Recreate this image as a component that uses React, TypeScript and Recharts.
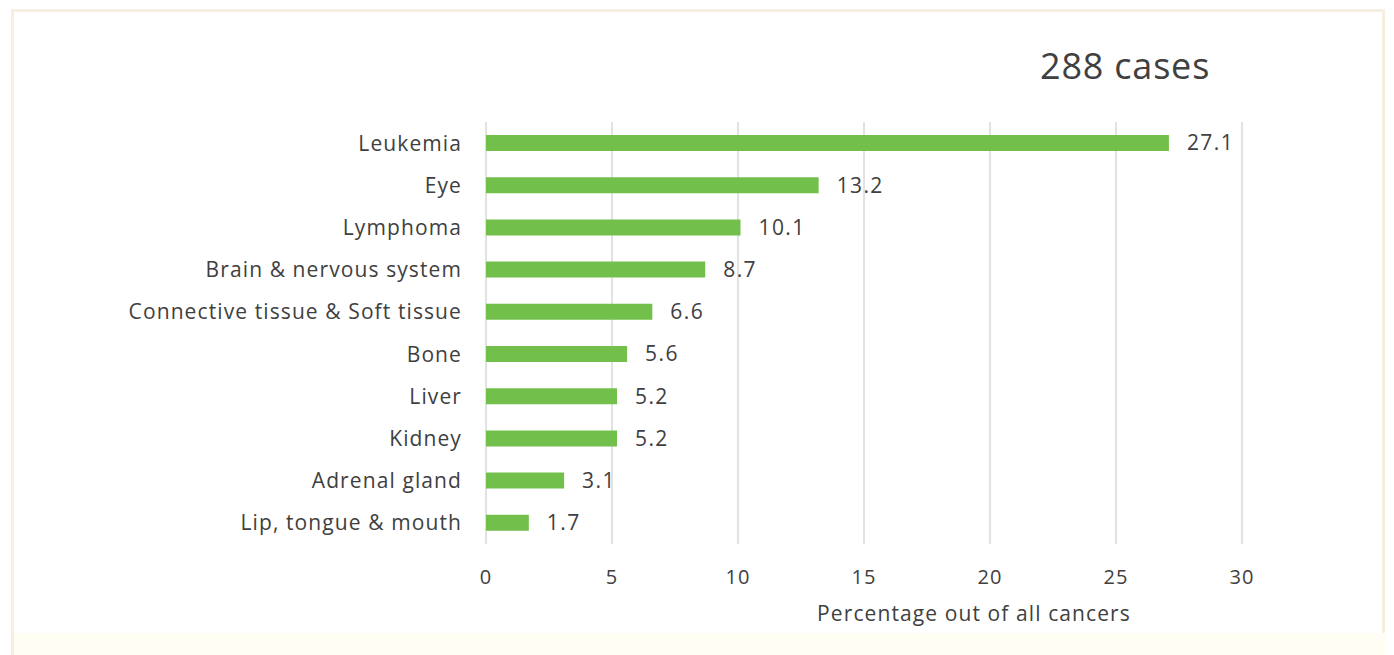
import { BarChart, Bar, XAxis, YAxis, CartesianGrid, LabelList, Label } from "recharts"

// categories, top to bottom
const cancerTypes: string[] = [
  "Leukemia",
  "Eye",
  "Lymphoma",
  "Brain & nervous system",
  "Connective tissue & Soft tissue",
  "Bone",
  "Liver",
  "Kidney",
  "Adrenal gland",
  "Lip, tongue & mouth",
]

// percentage out of all cancers
const percentages: number[] = [27.1, 13.2, 10.1, 8.7, 6.6, 5.6, 5.2, 5.2, 3.1, 1.7]

const xTicks: number[] = [0, 5, 10, 15, 20, 25, 30]

const totalCases = 288

const data = cancerTypes.map((name, i) => ({ name, value: percentages[i] }))

const FONT = "'Open Sans', Lato, sans-serif"
const TEXT = "#404040"

export default function App() {
  return (
    <div style={{ position: "absolute", left: 0, top: 0, width: 1394, height: 655, background: "#fff", fontFamily: FONT }}>
      {/* light frame around the chart */}
      <div
        style={{
          position: "absolute",
          left: 11,
          top: 9,
          width: 1374,
          height: 646,
          border: "3px solid #f7eee2",
          borderBottom: "none",
          boxSizing: "border-box",
        }}
      />
      <div style={{ position: "absolute", left: 14, top: 633, width: 1371, height: 22, background: "#fffdf4" }} />

      <div
        style={{
          position: "absolute",
          left: 1040,
          top: 42,
          fontSize: 36,
          letterSpacing: 0.8,
          color: TEXT,
          lineHeight: "48px",
          whiteSpace: "nowrap",
        }}
      >
        {totalCases} cases
      </div>

      <div style={{ position: "absolute", left: 0, top: 0 }}>
        <BarChart
          width={1394}
          height={655}
          data={data}
          layout="vertical"
          margin={{ top: 122, right: 152, bottom: 71, left: 0 }}
          barCategoryGap={13}
        >
          <CartesianGrid horizontal={false} vertical={true} stroke="#d9d9d9" strokeWidth={1.5} />
          <XAxis
            type="number"
            domain={[0, 30]}
            ticks={xTicks}
            axisLine={false}
            tickLine={false}
            tickSize={0}
            tickMargin={26}
            height={40}
            tick={{ fill: TEXT, fontSize: 20, fontFamily: FONT, letterSpacing: 1 }}
          >
            <Label
              value="Percentage out of all cancers"
              position="bottom"
              offset={22}
              dx={110}
              style={{ fill: TEXT, fontSize: 21, fontFamily: FONT, letterSpacing: 1.1 }}
            />
          </XAxis>
          <YAxis
            type="category"
            dataKey="name"
            width={486}
            axisLine={false}
            tickLine={false}
            tickSize={0}
            tickMargin={24}
            interval={0}
            tick={{ fill: TEXT, fontSize: 21, fontFamily: FONT, letterSpacing: 1.1 }}
          />
          <Bar dataKey="value" fill="#72c04b" isAnimationActive={false}>
            <LabelList
              dataKey="value"
              position="right"
              offset={18}
              style={{ fill: TEXT, fontSize: 21, fontFamily: FONT, letterSpacing: 1.4 }}
            />
          </Bar>
        </BarChart>
      </div>
    </div>
  )
}
